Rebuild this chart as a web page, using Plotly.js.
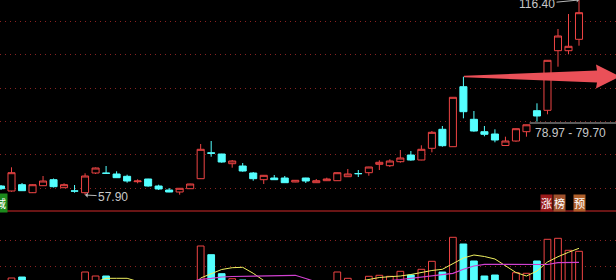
<!DOCTYPE html>
<html><head><meta charset="utf-8">
<script src="https://cdn.plot.ly/plotly-3.0.1.min.js"></script>
<style>html,body{margin:0;padding:0;background:#000;overflow:hidden}#chart{width:616px;height:280px;}</style>
</head><body><div id="chart"></div>
<script>
const days = [0,1,2,3,4,5,6,7,8,9,10,11,12,13,14,15,16,17,18,19,20,21,22,23,24,25,26,27,28,29,30,31,32,33,34,35,36,37,38,39,40,41,42,43,44,45,46,47,48,49,50,51,52,53,54,55];
const open  = [60.60,59.10,60.99,58.59,60.69,62.49,60.09,59.13,58.59,64.50,64.47,64.20,63.51,61.89,62.70,60.60,59.40,58.80,59.79,62.79,70.56,70.20,67.29,66.60,64.50,62.49,63.00,63.00,61.80,63.00,61.59,62.19,62.19,63.39,64.35,64.59,67.11,66.69,67.89,69.90,68.40,71.91,77.61,72.39,90.39,80.61,76.89,76.20,72.75,74.10,76.89,83.19,83.31,101.19,101.19,104.61];
const high  = [60.90,66.21,61.50,61.10,63.60,62.85,61.41,60.90,64.41,66.15,66.60,65.01,63.99,62.61,62.76,60.99,60.00,59.97,61.26,73.20,74.10,70.26,68.40,67.50,64.80,63.87,63.90,63.60,62.37,63.06,62.70,63.09,64.65,65.70,65.40,66.36,68.31,68.61,71.40,71.10,72.81,77.10,78.60,87.27,93.39,83.10,78.60,77.61,75.39,77.85,79.00,85.41,98.37,107.70,112.20,116.40];
const low   = [59.40,58.89,59.10,58.50,60.60,60.15,60.00,58.59,57.90,64.20,64.29,62.99,61.59,61.41,60.39,59.40,58.74,57.99,59.73,62.73,69.39,67.59,66.09,64.89,62.19,61.20,62.43,61.53,61.74,61.50,61.53,62.13,62.13,63.33,63.30,63.69,65.40,66.30,67.59,68.19,68.34,70.71,72.39,72.33,80.91,76.89,75.51,73.71,72.69,73.89,75.39,79.89,82.11,96.39,100.11,102.69];
const close = [59.79,64.59,59.19,60.99,62.10,60.39,60.99,59.07,63.60,66.00,64.41,63.09,62.10,62.10,60.60,59.70,58.80,59.91,61.20,71.61,70.41,67.80,68.10,65.10,62.79,63.81,62.49,61.59,62.31,62.10,62.19,62.70,64.59,64.20,64.29,66.30,67.71,68.10,69.00,68.40,71.61,76.71,72.69,87.21,82.89,77.10,76.11,74.40,74.10,77.79,78.97,81.60,98.31,105.60,102.51,112.59];
const volume = [35,42,43,33,30,30,36,36.5,48,44,44,36,36.5,30,33,30,27,30,35,74,65.3,46.3,41.3,40,38,33,28,30,24,27,29,28,48,41.7,35,43.7,44.7,43.7,48.7,45,50.7,58.7,48,82.7,76,59,44,45,38,47.3,46.7,59,80.7,81.7,69.7,68.7];
const volMA5 = [36,37,37,36,36,35,34,36,38,38,41.7,41.7,41.7,38.5,36,32,30,30,31,42,46.5,50.5,52.3,52.7,46.7,39.5,36,33,31,28,28,28,31,34,38.5,40.8,42.5,43.3,44,45.5,47.5,49.5,50.7,56.7,62,65,63.5,61,54,47.5,44,49,58,63.3,67.7,71.7];
const volMA10 = [37,37,37,37,37,36.5,36.5,36.5,37,37.5,38,38,38,38,37.5,37,36.5,36.5,38,40.7,41.7,43,43.5,43.7,44,44.5,45,45,44.7,41.5,38,36,35,34,33.5,34.5,37,39.5,40.5,41.7,43,44.7,45.7,46.7,50.7,54,55.7,55.7,55.7,55.5,55.3,55,55.5,57.3,57.5,57.7];
const priceGrid = [60,70,80,90,100,110];
const volGrid = [53.3,79.7];
const lowLabel = '57.90', highLabel = '116.40', rangeLabel = '78.97 - 79.70';

const RED = '#ee4444', CYAN = '#54ffff';
const up = days.map(i => close[i] >= open[i]);

const W = 616, H = 280;
const X = px => px / W, Y = py => 1 - py / H;
const split = 211;

const traces = [
  {type:'candlestick', x:days, open:open, high:high, low:low, close:close, xaxis:'x', yaxis:'y',
   increasing:{line:{color:RED,width:1}, fillcolor:'#000000'},
   decreasing:{line:{color:CYAN,width:1}, fillcolor:CYAN},
   whiskerwidth:0, hoverinfo:'skip', showlegend:false},
  {type:'bar', x:days, y:volume, xaxis:'x', yaxis:'y2', width:0.64,
   marker:{color: up.map(u => u ? '#000000' : CYAN), line:{color: up.map(u => u ? RED : CYAN), width:1}},
   hoverinfo:'skip', showlegend:false},
  {type:'scatter', mode:'lines', x:days, y:volMA5, xaxis:'x', yaxis:'y2', line:{color:'#f0f060', width:1}, hoverinfo:'skip', showlegend:false},
  {type:'scatter', mode:'lines', x:days, y:volMA10, xaxis:'x', yaxis:'y2', line:{color:'#d040d0', width:1.2}, hoverinfo:'skip', showlegend:false}
];

function pathPx(pts){ return 'M' + pts.map(p => X(p[0]).toFixed(5) + ',' + Y(p[1]).toFixed(5)).join(' L') + ' Z'; }

const gridStyle = {showgrid:true, gridcolor:'#8a2222', griddash:'1px,4px', gridwidth:1, zeroline:false, showline:false, ticks:'', showticklabels:false};

const layout = {
  width:W, height:H, margin:{l:0,r:0,t:0,b:0},
  paper_bgcolor:'#000000', plot_bgcolor:'#000000',
  boxgap:0.33, boxgroupgap:0,
  xaxis:{range:[-0.095,58.52], showticklabels:false, showgrid:false, zeroline:false, showline:false, ticks:'', rangeslider:{visible:false}, fixedrange:true},
  yaxis:Object.assign({domain:[1 - split/H, 1], range:[53.1,116.4], tickvals:priceGrid}, gridStyle),
  yaxis2:Object.assign({domain:[0, 1 - split/H], range:[40,109], tickvals:volGrid}, gridStyle),
  shapes:[
    {type:'line', xref:'paper', yref:'paper', x0:0, x1:1, y0:Y(split), y1:Y(split), line:{color:'#8c1c1c', width:1.5}},
    {type:'line', xref:'x', yref:'y', x0:50.3, x1:58.6, y0:79.5, y1:79.5, line:{color:'#b4b4b4', width:1}},
    {type:'path', xref:'paper', yref:'paper', path:pathPx([[464,75.8],[597,70.5],[596,64.5],[620,76.5],[596,88.5],[597,82.5],[464,77.2]]), fillcolor:'#ea5058', line:{width:0}}
  ],
  annotations:[
    {xref:'x', yref:'y', x:8, y:57.90, text:lowLabel, showarrow:true, ax:28, ay:1.5, arrowhead:1, arrowsize:0.9, arrowwidth:1, arrowcolor:'#b8b8b8', font:{family:'Arial, Liberation Sans', size:12, color:'#c8c8c8'}},
    {xref:'x', yref:'y', x:55, y:116.4, text:highLabel, showarrow:true, ax:-42, ay:4, arrowhead:1, arrowsize:0.8, arrowwidth:1, arrowcolor:'#b8b8b8', font:{family:'Arial, Liberation Sans', size:12, color:'#c8c8c8'}},
    {xref:'x', yref:'y', x:50.62, y:76.5, text:rangeLabel, showarrow:false, xanchor:'left', yanchor:'middle', font:{family:'Arial, Liberation Sans', size:12, color:'#c8c8c8'}},
    {xref:'paper', yref:'paper', x:X(8), y:Y(203), text:'减', showarrow:false, xanchor:'right', yanchor:'middle', bgcolor:'#1c8a1c', borderpad:1, font:{family:'Noto Sans CJK SC', size:11, color:'#ffffff'}},
    {xref:'paper', yref:'paper', x:X(553), y:Y(203), text:'涨', showarrow:false, xanchor:'right', yanchor:'middle', bgcolor:'#9a1a1a', borderpad:0, font:{family:'Noto Sans CJK SC', size:11, color:'#ffffff'}},
    {xref:'paper', yref:'paper', x:X(553), y:Y(203), text:'榜', showarrow:false, xanchor:'left', yanchor:'middle', bgcolor:'#a0522d', borderpad:0, font:{family:'Noto Sans CJK SC', size:11, color:'#ffffff'}},
    {xref:'paper', yref:'paper', x:X(579), y:Y(203), text:'预', showarrow:false, xanchor:'center', yanchor:'middle', bgcolor:'#b0602a', borderpad:0, font:{family:'Noto Sans CJK SC', size:11, color:'#ffffff'}}
  ]
};

Plotly.newPlot('chart', traces, layout, {staticPlot:true, displayModeBar:false});
</script></body></html>
